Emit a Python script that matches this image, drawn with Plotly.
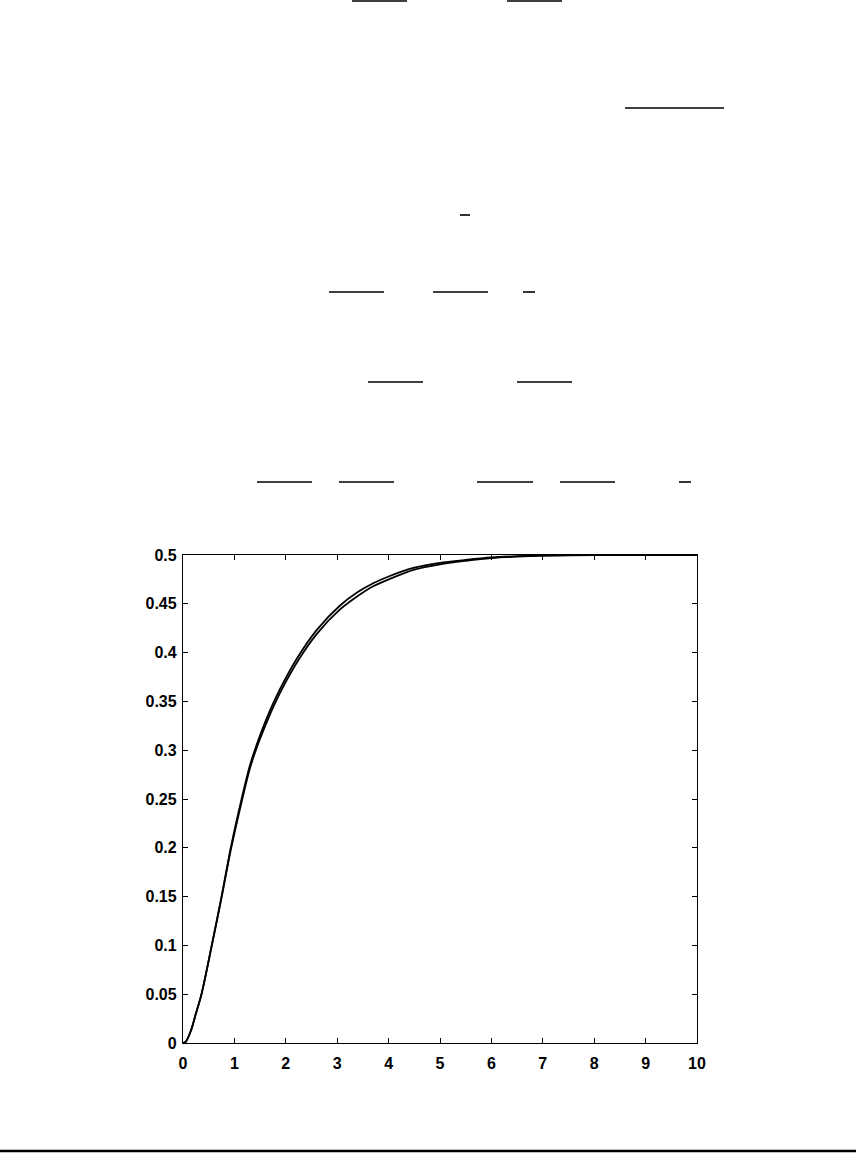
import plotly.graph_objects as go

# ---- data ----
t_a = [0, 0.05, 0.15, 0.25, 0.36, 0.56, 0.75, 0.93, 1.14, 1.3, 1.45, 1.6, 1.78, 2.0, 2.24, 2.6, 3.05, 3.4, 3.7, 4.0, 4.5, 5.0, 5.5, 6.0, 6.5, 7, 8, 9, 10]
y_a = [0, 0.001, 0.012, 0.03, 0.05, 0.1, 0.15, 0.2, 0.25, 0.284, 0.308, 0.329, 0.351, 0.374, 0.396, 0.423, 0.448, 0.462, 0.471, 0.478, 0.487, 0.492, 0.495, 0.4975, 0.4988, 0.4995, 0.5, 0.5, 0.5]

t_b = [0, 0.05, 0.15, 0.25, 0.36, 0.56, 0.75, 0.93, 1.14, 1.3, 1.45, 1.6, 1.78, 2.0, 2.24, 2.6, 3.05, 3.4, 3.7, 4.0, 4.5, 5.0, 5.5, 6.0, 6.5, 7, 8, 9, 10]
y_b = [0, 0.001, 0.012, 0.03, 0.05, 0.1, 0.149, 0.198, 0.247, 0.281, 0.305, 0.325, 0.347, 0.37, 0.392, 0.419, 0.444, 0.458, 0.468, 0.475, 0.485, 0.4905, 0.494, 0.4968, 0.4984, 0.4993, 0.4999, 0.5, 0.5]

x_ticks = [0, 1, 2, 3, 4, 5, 6, 7, 8, 9, 10]
y_ticks = [0, 0.05, 0.1, 0.15, 0.2, 0.25, 0.3, 0.35, 0.4, 0.45, 0.5]
y_tick_text = ["0", "0.05", "0.1", "0.15", "0.2", "0.25", "0.3", "0.35", "0.4", "0.45", "0.5"]

# page decoration: stray fraction bars of the scanned page (page pixel coords: x0, x1, y)
bars_px = [
    (352, 407, 1), (507, 562, 1),
    (625, 724, 108),
    (460, 470, 215),
    (329, 384, 292), (433, 488, 292), (523, 535, 292),
    (368, 423, 382), (517, 572, 382),
    (257, 312, 482), (339, 394, 482), (477, 533, 482), (560, 615, 482), (679, 691, 482),
]

W, H = 856, 1153
L, R, T, B = 183, 697, 555, 1043  # plot area in page pixels

fig = go.Figure()
for tx, ty in [(t_a, y_a), (t_b, y_b)]:
    fig.add_trace(go.Scatter(x=tx, y=ty, mode="lines",
                             line=dict(color="black", width=1.8, shape="spline", smoothing=0.8),
                             showlegend=False, hoverinfo="skip"))

def px2paper(x, y):
    return (x - L) / (R - L), (B - y) / (B - T)

shapes = []
for x0, x1, y in bars_px:
    a0, b0 = px2paper(x0, y)
    a1, b1 = px2paper(x1, y)
    shapes.append(dict(type="line", xref="paper", yref="paper", x0=a0, x1=a1, y0=b0, y1=b1,
                       line=dict(color="black", width=1.6)))
a0, b0 = px2paper(0, 1151)
a1, _ = px2paper(W, 1151)
shapes.append(dict(type="line", xref="paper", yref="paper", x0=a0, x1=a1, y0=b0, y1=b0,
                   line=dict(color="black", width=2.5)))

axis_common = dict(showgrid=False, zeroline=False, showline=True, linecolor="black", linewidth=1.3,
                   mirror="ticks", ticks="inside", ticklen=5, tickwidth=1, tickcolor="black",
                   tickfont=dict(family="Liberation Sans Narrow, Liberation Sans", size=16,
                                 color="black", weight="bold"))

fig.update_layout(
    width=W, height=H, autosize=False,
    margin=dict(l=L, r=W - R, t=T, b=H - B, pad=0),
    paper_bgcolor="white", plot_bgcolor="white",
    xaxis=dict(range=[0, 10], tickvals=x_ticks, ticktext=[str(v) for v in x_ticks],
               ticklabelstandoff=6, **axis_common),
    yaxis=dict(range=[0, 0.5], tickvals=y_ticks, ticktext=y_tick_text,
               ticklabelstandoff=2, **axis_common),
    shapes=shapes,
)

fig.write_html("out.html", config={"displayModeBar": False},
               post_script="document.body.style.margin='0';document.body.style.overflow='hidden';")
